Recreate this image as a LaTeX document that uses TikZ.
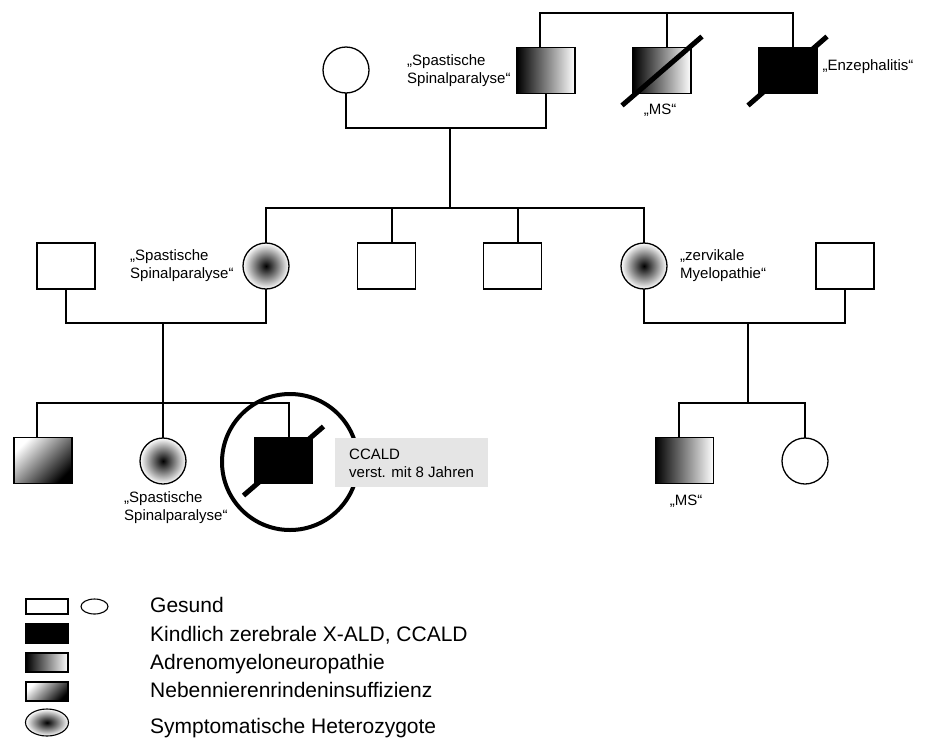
\documentclass[tikz,border=0pt]{standalone}
\usepackage{fontspec}
\setmainfont{Liberation Sans}
\usetikzlibrary{calc,shapes.geometric}
\begin{document}
\begin{tikzpicture}[x=1pt,y=-1pt,
  ln/.style={line width=1.3pt},
  sq/.style={draw, line width=1.3pt, minimum width=58pt, minimum height=46pt, inner sep=0pt, outer sep=0pt},
  ci/.style={draw, circle, line width=1.3pt, minimum size=46pt, inner sep=0pt, outer sep=0pt},
  amn/.style={left color=black, right color=white},
  nnr/.style={top color=white, bottom color=black, shading angle=45},
  het/.style={inner color=black, outer color=white},
  lbl/.style={font=\fontsize{15}{18}\selectfont, align=left, inner sep=0pt},
  slash/.style={line width=5pt},
  lgbox/.style={draw, line width=1.1pt, minimum width=42pt, minimum height=19pt, inner sep=0pt},
  lg/.style={font=\fontsize{21}{25}\selectfont, anchor=base west, inner sep=0pt},
]
\useasboundingbox (0,0) rectangle (928,737);
% bar levels
\coordinate (topbar) at (0,13);
\coordinate (cl1) at (0,128);
\coordinate (sb2) at (0,208);
\coordinate (cl2) at (0,323);
\coordinate (sb3) at (0,403);

% generation 1
\node[ci] (g1w) at (346,70) {};
\node[sq, amn] (g1m) at (546,70.5) {};
\node[sq, amn] (g1b) at (662,70.5) {};
\node[sq, fill=black] (g1c) at (788,70.5) {};
\draw[slash] ($(g1b.center)+(-40,35)$) -- ($(g1b.center)+(40,-34)$);
\draw[slash] ($(g1c.center)+(-40,35)$) -- ($(g1c.center)+(39,-34)$);
\coordinate (s1) at ($(g1m.north)+(-6,0)$);
\coordinate (s2) at ($(g1b.north)+(5,0)$);
\coordinate (s3) at ($(g1c.north)+(5,0)$);
\draw[ln] (s1) -- (s1 |- topbar) -- (s3 |- topbar) -- (s3);
\draw[ln] (s2) -- (s2 |- topbar);
\draw[ln] (g1w.south) -- (g1w.south |- cl1) -| (g1m.south);
\coordinate (d1) at (450,128);
\draw[ln] (d1) -- (d1 |- sb2);
\node[lbl, anchor=north west] (t1) at (407,54.6) {„Spastische\\Spinalparalyse“};
\node[lbl, anchor=center] (t2) at (660,110) {„MS“};
\node[lbl, anchor=center] (t3) at (868,67) {„Enzephalitis“};

% generation 2
\node[sq] (g2l) at (66,266) {};
\node[ci, het] (g2a) at (266,266) {};
\node[sq] (g2b) at (386.5,266) {};
\node[sq] (g2c) at (512.5,266) {};
\node[ci, het] (g2d) at (644,266) {};
\node[sq] (g2r) at (845,266) {};
\draw[ln] (g2a.north) -- (g2a.north |- sb2) -- (g2d.north |- sb2) -- (g2d.north);
\coordinate (s4) at ($(g2b.north)+(5.5,0)$);
\coordinate (s5) at ($(g2c.north)+(5.5,0)$);
\draw[ln] (s4) -- (s4 |- sb2);
\draw[ln] (s5) -- (s5 |- sb2);
\draw[ln] (g2l.south) -- (g2l.south |- cl2) -| (g2a.south);
\draw[ln] (g2d.south) -- (g2d.south |- cl2) -| (g2r.south);
\node[lbl, anchor=north west] (t4) at (130,249.6) {„Spastische\\Spinalparalyse“};
\node[lbl, anchor=north west] (t5) at (680,249.6) {„zervikale\\Myelopathie“};

% generation 3
\node[sq, nnr] (g3a) at (43,460.5) {};
\node[ci, het] (g3b) at (163,461) {};
\node[sq, fill=black] (g3c) at (283.5,460.5) {};
\draw[slash] ($(g3c.center)+(-40,35)$) -- ($(g3c.center)+(40,-34)$);
\node[sq, amn] (g3d) at (684.5,460.5) {};
\node[ci] (g3e) at (805,461) {};
\coordinate (s6) at ($(g3a.north)+(-6,0)$);
\coordinate (s7) at ($(g3c.north)+(5.5,0)$);
\draw[ln] (s6) -- (s6 |- sb3) -- (s7 |- sb3) -- (s7);
\coordinate (d2) at (163,323);
\draw[ln] (d2) -- (g3b.north);
\coordinate (s8) at ($(g3d.north)+(-5.5,0)$);
\draw[ln] (s8) -- (s8 |- sb3) -- (g3e.north |- sb3) -- (g3e.north);
\coordinate (d3) at (748,323);
\draw[ln] (d3) -- (d3 |- sb3);
\node[draw, circle, line width=4pt, minimum size=136pt, inner sep=0pt] (big) at (290,462) {};
\node[fill=black!10, minimum width=153pt, minimum height=49pt, inner sep=0pt] (cbox) at (411.5,462.5) {};
\node[lbl, anchor=north west] (t6) at (349,448.6) {CCALD\\verst. mit 8 Jahren};
\node[lbl, anchor=north west] (t7) at (124,491.6) {„Spastische\\Spinalparalyse“};
\node[lbl, anchor=center] (t8) at (686,501) {„MS“};

% legend
\node[lgbox, minimum height=15pt] (l1) at (47,606.5) {};
\node[draw, ellipse, line width=1.1pt, minimum width=27pt, minimum height=15pt, inner sep=0pt] (l1e) at (94.5,606.5) {};
\node[lgbox, fill=black] (l2) at (47,633.5) {};
\node[lgbox, amn] (l3) at (47,662.5) {};
\node[lgbox, nnr] (l4) at (47,691.5) {};
\node[draw, ellipse, line width=1.1pt, minimum width=43pt, minimum height=27pt, inner sep=0pt, het] (l5) at (47,722.5) {};
\node[lg] (lt1) at (150,612.5) {Gesund};
\node[lg] (lt2) at (150,641.5) {Kindlich zerebrale X-ALD, CCALD};
\node[lg] (lt3) at (150,669.5) {Adrenomyeloneuropathie};
\node[lg] (lt4) at (150,697.5) {Nebennierenrindeninsuffizienz};
\node[lg] (lt5) at (150,733) {Symptomatische Heterozygote};
\end{tikzpicture}
\end{document}
